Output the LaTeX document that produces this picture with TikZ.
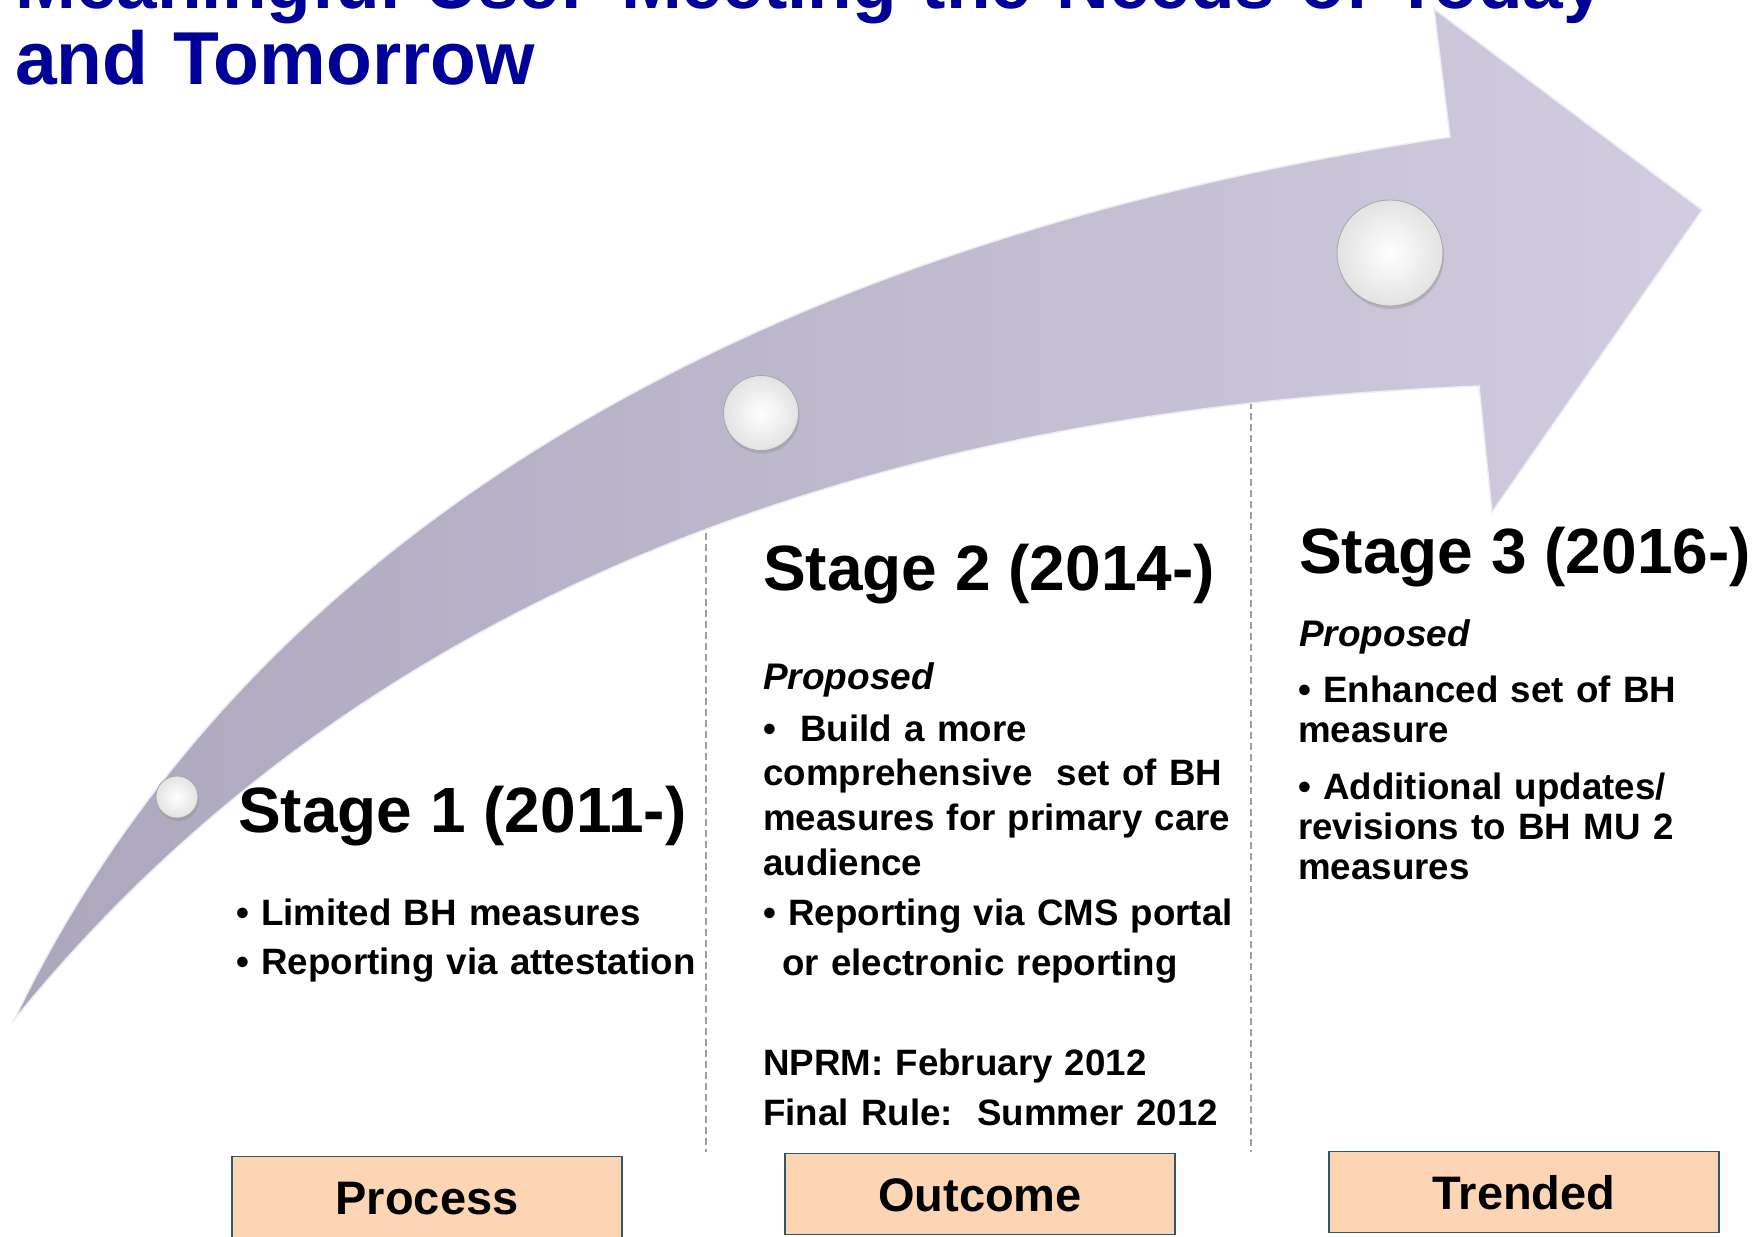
\documentclass[tikz,border=0pt]{standalone}
\usepackage{fontspec}
\setmainfont{Liberation Sans}
\usetikzlibrary{shadows}

\definecolor{titleblue}{RGB}{0,0,153}
\definecolor{arrowdark}{RGB}{172,167,188}
\definecolor{arrowlight}{RGB}{210,204,224}
\definecolor{peach}{RGB}{252,213,181}
\definecolor{boxedge}{RGB}{50,88,104}

\tikzset{
  stagehead/.style={anchor=base west, inner sep=0pt, font=\fontsize{64}{70}\selectfont\bfseries},
  proposed/.style={anchor=base west, inner sep=0pt, font=\fontsize{37}{44}\selectfont\bfseries\itshape},
  itemlist/.style={anchor=base west, inner sep=0pt, align=left, text width=500pt,
    font=\fontsize{36.7}{#1}\selectfont\bfseries},
  ball/.style={circle, draw=gray!70, line width=0.8pt, inner sep=0pt, minimum size=#1,
    inner color=white, outer color=gray!22,
    drop shadow={opacity=0.3, shadow xshift=1pt, shadow yshift=-3pt}},
  catbox/.style={draw=boxedge, line width=1.5pt, fill=peach, minimum width=390pt,
    minimum height=81pt, text height=34pt, text depth=0pt,
    font=\fontsize{47}{50}\selectfont\bfseries},
  divider/.style={gray!75, line width=1.2pt, dash pattern=on 7pt off 4pt}
}

\begin{document}
\begin{tikzpicture}[x=1pt, y=-1pt]

      \useasboundingbox (0,0) rectangle (1752,1236);
      \clip (0,0) rectangle (1752,1236);

      % outline of the arrow
      \coordinate (tail) at (14,1020);
      \coordinate (notchtop) at (1450,137);
      \coordinate (headtop) at (1434,9);
      \coordinate (tip) at (1702,210);
      \coordinate (headbot) at (1492,512);
      \coordinate (notchbot) at (1479,386);

      \coordinate (d1top) at (706,500);
      \coordinate (d1bot) at (706,1152);
      \coordinate (d2top) at (1251,380);
      \coordinate (d2bot) at (1251,1152);

      \draw[divider] (d1top) -- (d1bot);
      \draw[divider] (d2top) -- (d2bot);

      \path[left color=arrowdark, right color=arrowlight, draw=white!60!arrowlight, line width=1.5pt]
        (tail) .. controls (230,570) and (700,250) .. (notchtop) -- (headtop) -- (tip)
        -- (headbot) -- (notchbot) .. controls (1100,402) and (450,482) .. (tail) -- cycle;

      \node[ball=42pt] (ball1) at (177,797) {};
      \node[ball=75pt] (ball2) at (761,413) {};
      \node[ball=106pt] (ball3) at (1390,253) {};

      \node[anchor=base west, inner sep=0pt, align=left, text width=1800pt, text=titleblue,
        font=\fontsize{75}{76}\selectfont\bfseries] (title) at (15,9)
        {{\fontsize{73}{76}\selectfont Meaningful Use: Meeting the Needs of Today}\\and Tomorrow};

      % stage 1
      \node[stagehead] (s1head) at (238,832) {Stage 1 (2011-)};
      \node[itemlist=49] (s1list) at (236,925)
        {• Limited BH measures\\• Reporting via attestation};

      % stage 2
      \node[stagehead] (s2head) at (763,590) {Stage 2 (2014-)};
      \node[proposed] (s2prop) at (763,689) {Proposed};
      \node[itemlist=44.7] (s2list) at (763,741)
        {•\ \ Build a more\\comprehensive\ \ set of BH\\measures for primary care\\audience\\[5.3pt]
         • Reporting via CMS portal\\[5.3pt]\hspace*{19pt}or electronic reporting};
      \node[itemlist=50] (s2dates) at (763,1075)
        {NPRM: February 2012\\Final Rule:\ \ Summer 2012};

      % stage 3
      \node[stagehead] (s3head) at (1299,573) {Stage 3 (2016-)};
      \node[proposed] (s3prop) at (1299,646) {Proposed};
      \node[itemlist=40] (s3list) at (1298,702)
        {• Enhanced set of BH\\measure\\[17pt]• Additional updates/\\revisions to BH MU 2\\measures};

      \node[catbox] (process) at (427,1197) {Process};
      \node[catbox] (outcome) at (980,1194) {Outcome};
      \node[catbox] (trended) at (1524,1192) {Trended};

\end{tikzpicture}
\end{document}
